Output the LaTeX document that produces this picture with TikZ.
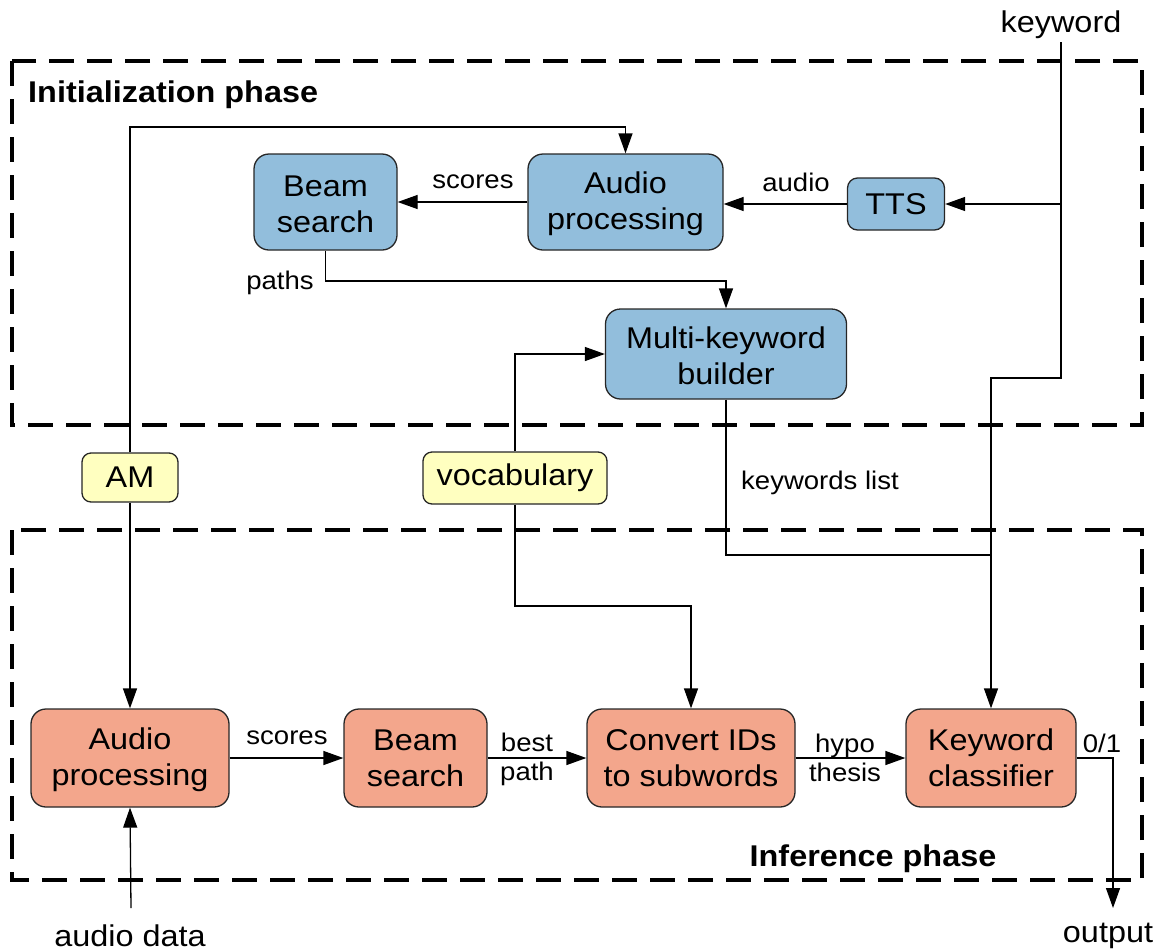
\documentclass[tikz,border=0pt]{standalone}
\usepackage{fontspec}
\setmainfont{Liberation Sans}[FakeStretch=1.08]
\usetikzlibrary{arrows.meta}
\definecolor{initblue}{RGB}{146,190,220}
\definecolor{infsalmon}{RGB}{243,166,140}
\definecolor{resyellow}{RGB}{255,255,192}
\tikzset{
  boxbase/.style={draw=black!85, line width=1.3pt, rounded corners=15pt, align=center,
    font=\fontsize{30}{36}\selectfont, inner sep=0pt},
  bluebox/.style={boxbase, fill=initblue},
  redbox/.style={boxbase, fill=infsalmon},
  yellowbox/.style={boxbase, fill=resyellow, rounded corners=9pt},
  lbl/.style={font=\fontsize{25.5}{29}\selectfont, align=center, inner sep=0pt},
  extlbl/.style={font=\fontsize{30}{34}\selectfont, inner sep=0pt},
  phase/.style={line width=4pt, dash pattern=on 25pt off 13pt},
  phasetitle/.style={font=\bfseries\fontsize{30}{34}\selectfont, inner sep=0pt},
  conn/.style={line width=1.3pt},
  arr/.style={conn, -{Triangle[length=20pt,width=14pt]}}
}
\begin{document}
\begin{tikzpicture}[x=1pt,y=-1pt]
\useasboundingbox (0,0) rectangle (1161,951);
% phase frames
\draw[phase] (12,61) rectangle (1142,425);
\draw[phase] (12,530) rectangle (1142,880);
\node[phasetitle, anchor=west] (tinit) at (28,95) {Initialization phase};
\node[phasetitle] (tinf) at (873,859) {Inference phase};
% init nodes
\node[bluebox, minimum width=143pt, minimum height=96pt] (bs1) at (325.5,202) {\rule{0pt}{25pt}Beam\\search};
\node[bluebox, minimum width=195pt, minimum height=96pt] (ap1) at (625.5,202) {\rule{0pt}{25pt}Audio\\processing};
\node[bluebox, minimum width=97pt, minimum height=52pt, rounded corners=10pt] (tts) at (896,204) {TTS};
\node[bluebox, minimum width=241pt, minimum height=90pt] (mk) at (726,354) {\rule{0pt}{25pt}Multi-keyword\\builder};
% resources
\node[yellowbox, minimum width=96pt, minimum height=49pt] (am) at (130,477.5) {AM};
\node[yellowbox, minimum width=184pt, minimum height=52pt] (voc) at (515,478) {vocabulary};
% inference nodes
\node[redbox, minimum width=198pt, minimum height=98pt] (ap2) at (130,758) {\rule{0pt}{25pt}Audio\\processing};
\node[redbox, minimum width=143pt, minimum height=98pt] (bs2) at (415.5,758) {Beam\\search};
\node[redbox, minimum width=208pt, minimum height=98pt] (cv) at (691,758) {Convert IDs\\to subwords};
\node[redbox, minimum width=170pt, minimum height=98pt] (kc) at (991,758) {Keyword\\classifier};
% external texts
\node[extlbl] (kw) at (1061,25) {keyword};
\node[extlbl] (ad) at (130,936) {audio data};
\node[extlbl] (out) at (1108,936) {output};
% coordinates
\coordinate (kwtop) at (1061,42);
\coordinate (kwtts) at (1061,204);
\coordinate (kwbend) at (1061,378);
\coordinate (amc) at (130,127);
\coordinate (pathc) at (325.5,281);
\coordinate (klc) at (726,555);
\coordinate (kjoin) at (991,555);
\coordinate (vocc) at (515,606);
\coordinate (adtop) at (131,908);
\coordinate (outend) at (1113,908);
% init connectors
\draw[arr] (kwtop) -- (kwbend) -| (kc.north);
\draw[arr] (kwtts) -- (tts.east);
\draw[arr] (tts.west) -- (ap1.east |- tts.west);
\draw[arr] (ap1.west) -- (bs1.east);
\draw[arr] (am.north) -- (amc) -| (ap1.north);
\draw[arr] (bs1.south) -- (pathc) -| (mk.north);
\draw[arr] (voc.north) |- (mk.west);
\draw[conn] (mk.south) -- (klc) -- (kjoin);
% inference connectors
\draw[arr] (am.south) -- (ap2.north);
\draw[arr] (voc.south) -- (vocc) -| (cv.north);
\draw[arr] (adtop) -- (ap2.south);
\draw[arr] (ap2.east) -- (bs2.west);
\draw[arr] (bs2.east) -- (cv.west);
\draw[arr] (cv.east) -- (kc.west);
\draw[arr] (kc.east) -| (outend);
% labels
\node[lbl] (lscores1) at (473,182) {scores};
\node[lbl] (laudio) at (796,182) {audio};
\node[lbl] (lpaths) at (280,283) {paths};
\node[lbl] (lkwl) at (820,483) {keywords list};
\node[lbl] (lscores2) at (287,738) {scores};
\node[lbl] (lbest) at (527,759) {best\\path};
\node[lbl] (lhypo) at (845,758) {hypo\\thesis};
\node[lbl] (l01) at (1102,743) {0/1};
\end{tikzpicture}
\end{document}
